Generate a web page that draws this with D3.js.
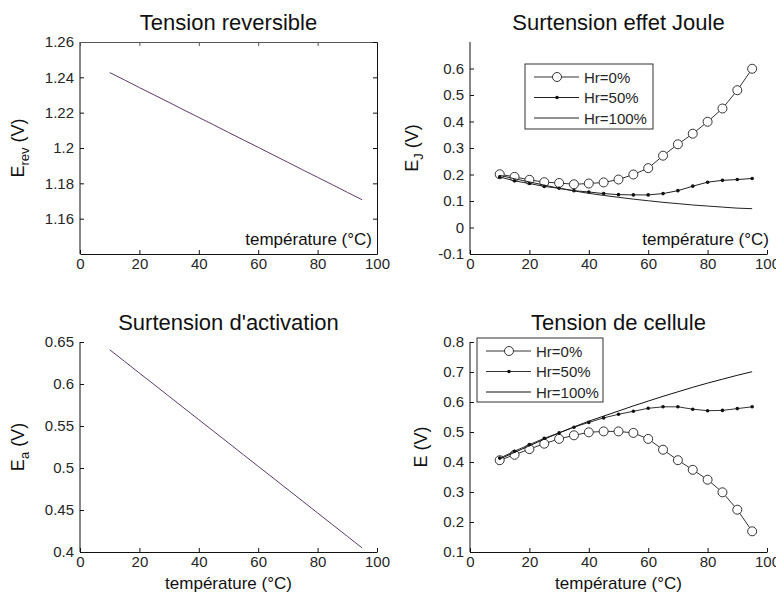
<!DOCTYPE html>
<html lang="fr">
<head>
<meta charset="UTF-8">
<title>Tensions PEM</title>
<script src="https://cdn.jsdelivr.net/npm/d3@7/dist/d3.min.js"></script>
<style>
  body { margin: 0; background: #fff; }
  svg { display: block; font-family: "Liberation Sans", Arial, sans-serif; }
</style>
</head>
<body>
<script>
// données
var temperature = [10, 15, 20, 25, 30, 35, 40, 45, 50, 55, 60, 65, 70, 75, 80, 85, 90, 95];

var eRev = [1.2427, 1.2385, 1.2342, 1.2300, 1.2258, 1.2215, 1.2173, 1.2131, 1.2088,
            1.2046, 1.2004, 1.1961, 1.1919, 1.1876, 1.1834, 1.1792, 1.1749, 1.1707];

var eAct = [0.6408, 0.6269, 0.6130, 0.5992, 0.5853, 0.5714, 0.5575, 0.5437, 0.5298,
            0.5159, 0.5020, 0.4882, 0.4743, 0.4604, 0.4465, 0.4326, 0.4187, 0.4048];

var jouleHr0   = [0.201, 0.191, 0.180, 0.171, 0.168, 0.163, 0.166, 0.170, 0.181,
                  0.200, 0.224, 0.271, 0.314, 0.354, 0.399, 0.449, 0.518, 0.599];
var jouleHr50  = [0.191, 0.176, 0.166, 0.155, 0.148, 0.139, 0.134, 0.128, 0.124,
                  0.123, 0.123, 0.128, 0.139, 0.156, 0.171, 0.178, 0.181, 0.185];
var jouleHr100 = [0.197, 0.184, 0.172, 0.160, 0.148, 0.138, 0.129, 0.121, 0.114,
                  0.107, 0.101, 0.095, 0.090, 0.085, 0.081, 0.077, 0.073, 0.071];

var cellHr0   = [0.406, 0.424, 0.443, 0.461, 0.477, 0.489, 0.499, 0.502, 0.502,
                 0.497, 0.477, 0.441, 0.406, 0.374, 0.341, 0.299, 0.241, 0.169];
var cellHr50  = [0.413, 0.436, 0.458, 0.479, 0.497, 0.516, 0.532, 0.547, 0.559,
                 0.569, 0.579, 0.584, 0.584, 0.576, 0.571, 0.572, 0.578, 0.584];
var cellHr100 = [0.410, 0.432, 0.454, 0.476, 0.497, 0.517, 0.536, 0.553, 0.570,
                 0.587, 0.603, 0.619, 0.634, 0.649, 0.663, 0.676, 0.689, 0.701];

var legendLabels = ["Hr=0%", "Hr=50%", "Hr=100%"];
var xTicks = [0, 20, 40, 60, 80, 100];
var revTicks = [1.16, 1.18, 1.2, 1.22, 1.24, 1.26];
var jouleTicks = [-0.1, 0, 0.1, 0.2, 0.3, 0.4, 0.5, 0.6];
var actTicks = [0.4, 0.45, 0.5, 0.55, 0.6, 0.65];
var cellTicks = [0.1, 0.2, 0.3, 0.4, 0.5, 0.6, 0.7, 0.8];

var width = 776, height = 595;
var svg = d3.select("body").append("svg").attr("width", width).attr("height", height);
svg.append("rect").attr("width", width).attr("height", height).attr("fill", "#fff");

var tickColor = "#262626";
var fmt = function(d) { return String(+d.toFixed(2)); };

function panel(cfg) {
    var x = d3.scaleLinear().domain([0, 100]).range([cfg.left, cfg.right]);
    var y = d3.scaleLinear().domain(cfg.yDomain).range([cfg.bottom, cfg.top]);
    var g = svg.append("g");

    var xAxis = g.append("g").attr("transform", "translate(0," + cfg.bottom + ")")
        .call(d3.axisBottom(x).tickValues(xTicks).tickFormat(fmt)
            .tickSizeInner(-4).tickSizeOuter(0).tickPadding(4));
    var yAxis = g.append("g").attr("transform", "translate(" + cfg.left + ",0)")
        .call(d3.axisLeft(y).tickValues(cfg.yTicks).tickFormat(fmt)
            .tickSizeInner(-4).tickSizeOuter(0).tickPadding(6));
    // axe y s'arrête en haut du cadre
    yAxis.select(".domain").attr("d", "M0," + cfg.bottom + "V" + cfg.top);

    [xAxis, yAxis].forEach(function(a) {
        a.select(".domain").attr("stroke", "#111");
        a.selectAll(".tick line").attr("stroke", "#111");
        a.selectAll(".tick text").attr("fill", tickColor).style("font-size", "15px")
            .style("font-family", "\"Liberation Sans\", Arial, sans-serif");
    });

    if (cfg.box) {
        g.append("g").attr("transform", "translate(0," + cfg.top + ")")
            .call(d3.axisTop(x).tickValues(xTicks).tickFormat("")
                .tickSizeInner(-4).tickSizeOuter(0))
            .call(function(a) {
                a.select(".domain").attr("stroke", "#555");
                a.selectAll(".tick line").attr("stroke", "#555");
            });
        g.append("g").attr("transform", "translate(" + cfg.right + ",0)")
            .call(d3.axisRight(y).tickValues(cfg.yTicks).tickFormat("")
                .tickSizeInner(-4).tickSizeOuter(0))
            .call(function(a) {
                a.select(".domain").attr("stroke", "#111");
                a.selectAll(".tick line").attr("stroke", "#111");
            });
    }

    // titre
    g.append("text").attr("x", (cfg.left + cfg.right) / 2).attr("y", cfg.top - 12)
        .attr("text-anchor", "middle").attr("fill", "#111")
        .style("font-size", "22px").text(cfg.title);

    // label y avec indice
    var yl = g.append("text")
        .attr("transform", "translate(" + cfg.ylabelX + "," + (cfg.top + cfg.bottom) / 2 + ") rotate(-90)")
        .attr("text-anchor", "middle").attr("fill", "#111").style("font-size", "18px");
    yl.append("tspan").text("E");
    if (cfg.ysub) {
        yl.append("tspan").attr("dy", "5").style("font-size", "13px").text(cfg.ysub);
        yl.append("tspan").attr("dy", "-5").text(" (V)");
    } else {
        yl.append("tspan").text(" (V)");
    }

    // label x
    if (cfg.xlabelInside) {
        g.append("text").attr("x", cfg.xlabelRight).attr("y", cfg.bottom - 9)
            .attr("text-anchor", "end").attr("fill", "#111").style("font-size", "17px")
            .text("température (°C)");
    } else {
        g.append("text").attr("x", (cfg.left + cfg.right) / 2).attr("y", cfg.bottom + 37)
            .attr("text-anchor", "middle").attr("fill", "#111").style("font-size", "17px")
            .text("température (°C)");
    }

    var line = d3.line().x(function(d) { return x(d[0]); }).y(function(d) { return y(d[1]); });

    cfg.series.forEach(function(s) {
        var pts = d3.zip(temperature, s.values);
        g.append("path").datum(pts).attr("d", line).attr("fill", "none")
            .attr("stroke", s.color).attr("stroke-width", 1);
        if (s.marker === "o") {
            g.selectAll(null).data(pts).enter().append("circle")
                .attr("cx", function(d) { return x(d[0]); })
                .attr("cy", function(d) { return y(d[1]); })
                .attr("r", 4.5).attr("fill", "#fff").attr("stroke", "#333").attr("stroke-width", 1);
        } else if (s.marker === ".") {
            g.selectAll(null).data(pts).enter().append("circle")
                .attr("cx", function(d) { return x(d[0]); })
                .attr("cy", function(d) { return y(d[1]); })
                .attr("r", 1.8).attr("fill", "#111");
        }
    });

    if (cfg.legend) {
        var L = cfg.legend;
        g.append("rect").attr("x", L.x).attr("y", L.y).attr("width", L.w).attr("height", L.h)
            .attr("fill", "#fff").attr("stroke", "#333").attr("stroke-width", 1);
        cfg.series.forEach(function(s, i) {
            var ry = L.y + 13 + i * 20.5;
            g.append("line").attr("x1", L.x + 9).attr("x2", L.x + 54)
                .attr("y1", ry).attr("y2", ry).attr("stroke", s.color).attr("stroke-width", 1);
            if (s.marker === "o") {
                g.append("circle").attr("cx", L.x + 32).attr("cy", ry).attr("r", 4.5)
                    .attr("fill", "#fff").attr("stroke", "#333");
            } else if (s.marker === ".") {
                g.append("circle").attr("cx", L.x + 32).attr("cy", ry).attr("r", 1.8).attr("fill", "#111");
            }
            g.append("text").attr("x", L.x + 59).attr("y", ry + 5.5)
                .attr("fill", tickColor).style("font-size", "15px").text(legendLabels[i]);
        });
    }
}

var purple = "#5b3b6b";

panel({
    left: 80, right: 377, top: 42, bottom: 254,
    yDomain: [1.14, 1.26], yTicks: revTicks, box: true,
    title: "Tension reversible", ysub: "rev", ylabelX: 24,
    xlabelInside: true, xlabelRight: 372,
    series: [{ values: eRev, color: purple }]
});

panel({
    left: 470, right: 767, top: 42, bottom: 254,
    yDomain: [-0.1, 0.7], yTicks: jouleTicks,
    title: "Surtension effet Joule", ysub: "J", ylabelX: 418,
    xlabelInside: true, xlabelRight: 769,
    series: [
        { values: jouleHr0, color: "#333", marker: "o" },
        { values: jouleHr50, color: "#222", marker: "." },
        { values: jouleHr100, color: "#222" }
    ],
    legend: { x: 525, y: 64, w: 128, h: 65 }
});

panel({
    left: 80, right: 377, top: 342, bottom: 552,
    yDomain: [0.4, 0.65], yTicks: actTicks,
    title: "Surtension d'activation", ysub: "a", ylabelX: 24,
    series: [{ values: eAct, color: purple }]
});

panel({
    left: 470, right: 767, top: 342, bottom: 552,
    yDomain: [0.1, 0.8], yTicks: cellTicks,
    title: "Tension de cellule", ylabelX: 427,
    series: [
        { values: cellHr0, color: "#333", marker: "o" },
        { values: cellHr50, color: "#333", marker: "." },
        { values: cellHr100, color: "#111" }
    ],
    legend: { x: 477, y: 338, w: 126, h: 64 }
});
</script>
</body>
</html>
